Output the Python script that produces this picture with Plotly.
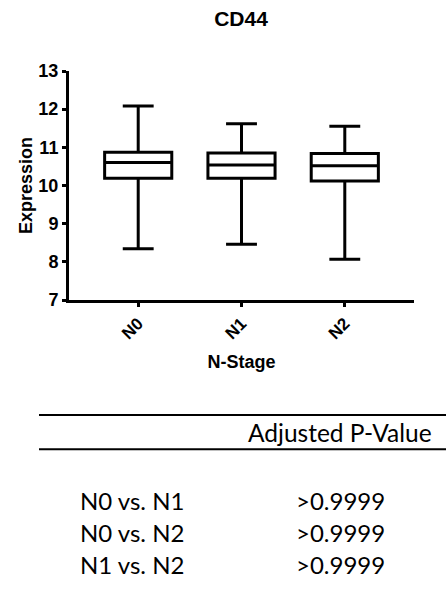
import plotly.graph_objects as go

categories = ["N0", "N1", "N2"]
lower_whisker = [8.34, 8.46, 8.07]
q1_vals = [10.19, 10.19, 10.12]
median_vals = [10.60, 10.54, 10.52]
q3_vals = [10.87, 10.85, 10.84]
upper_whisker = [12.08, 11.62, 11.55]
y_ticks = [7, 8, 9, 10, 11, 12, 13]

comparisons = ["N0 vs. N1", "N0 vs. N2", "N1 vs. N2"]
p_values = [">0.9999", ">0.9999", ">0.9999"]

W, H = 446, 612
L, R, T, B = 69, 414, 70.7, 300.3

def px(x):
    return (x - L) / (R - L)

def py(y):
    return (B - y) / (B - T)

AR = "Liberation Sans"
TF = "Lato"

fig = go.Figure()
fig.add_trace(go.Box(
    x=categories,
    q1=q1_vals, median=median_vals, q3=q3_vals,
    lowerfence=lower_whisker, upperfence=upper_whisker,
    width=0.65, whiskerwidth=0.46,
    line=dict(color="black", width=3),
    fillcolor="white",
    boxpoints=False,
    showlegend=False,
    hoverinfo="skip",
))

fig.update_layout(
    width=W, height=H,
    margin=dict(l=L, r=W - R, t=T, b=H - B),
    paper_bgcolor="white", plot_bgcolor="white",
    showlegend=False,
    title=dict(text="<b>CD44</b>", x=241 / W, xanchor="center",
               y=1 - 19 / H, yanchor="middle",
               font=dict(family=AR, size=21, color="black")),
    xaxis=dict(
        range=[-0.67, 2.67], showline=True, linecolor="black", linewidth=3,
        ticks="outside", ticklen=4, tickwidth=3, tickcolor="black",
        tickangle=-45, showgrid=False, zeroline=False,
        tickmode="array", tickvals=categories,
        ticktext=["<b>%s</b>" % c for c in categories],
        tickfont=dict(family=AR, size=17, color="black", weight="bold"),
        title=dict(text="<b>N-Stage</b>", font=dict(family=AR, size=18, color="black"), standoff=14),
        automargin=False,
    ),
    yaxis=dict(
        range=[7, 13], showline=True, linecolor="black", linewidth=3,
        ticks="outside", ticklen=4, tickwidth=3, tickcolor="black",
        showgrid=False, zeroline=False,
        tickmode="array", tickvals=y_ticks,
        ticktext=["<b>%d</b>" % v for v in y_ticks],
        tickfont=dict(family=AR, size=18, color="black", weight="bold"),
        title=dict(text="<b>Expression</b>", font=dict(family=AR, size=18, color="black"), standoff=2),
        automargin=False,
    ),
)

# table lines
for yline in [415.7, 450]:
    fig.add_shape(type="line", xref="paper", yref="paper",
                  x0=px(39), x1=px(446), y0=py(yline), y1=py(yline),
                  line=dict(color="black", width=2))

fig.add_annotation(text="Adjusted P-Value", xref="paper", yref="paper",
                   x=px(340), y=py(433), xanchor="center", yanchor="middle",
                   showarrow=False, font=dict(family=TF, size=24.5, color="black"))

row_y = [501, 533, 565]
for comp, pv, yy in zip(comparisons, p_values, row_y):
    fig.add_annotation(text=comp, xref="paper", yref="paper",
                       x=px(78), y=py(yy), xanchor="left", yanchor="middle",
                       showarrow=False, font=dict(family=TF, size=24, color="black"))
    fig.add_annotation(text=pv, xref="paper", yref="paper",
                       x=px(340), y=py(yy), xanchor="center", yanchor="middle",
                       showarrow=False, font=dict(family=TF, size=24, color="black"))

fig.write_html("out.html")
